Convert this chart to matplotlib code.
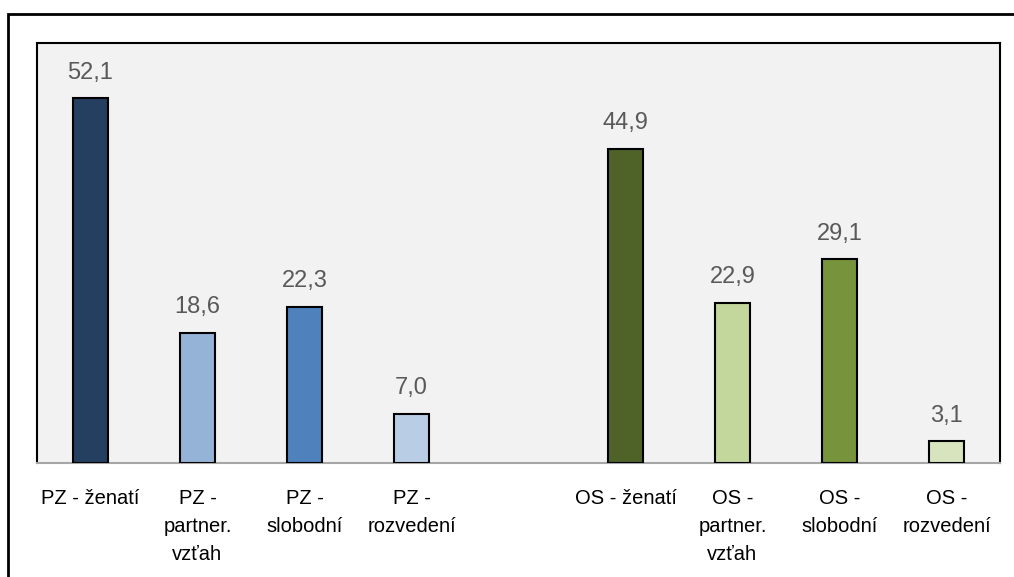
import matplotlib
matplotlib.use("Agg")
import matplotlib.pyplot as plt
from matplotlib.patches import Rectangle

plt.rcParams["font.family"] = ["Liberation Sans", "DejaVu Sans"]

# kategórie a hodnoty (%), medzi skupinami PZ a OS je prázdny slot
labels_pz = ["PZ - ženatí", "PZ -\npartner.\nvzťah", "PZ -\nslobodní", "PZ -\nrozvedení"]
labels_os = ["OS - ženatí", "OS -\npartner.\nvzťah", "OS -\nslobodní", "OS -\nrozvedení"]
values_pz = [52.1, 18.6, 22.3, 7.0]
values_os = [44.9, 22.9, 29.1, 3.1]
colors_pz = ["#243f60", "#95b3d7", "#4f81bd", "#b9cde5"]
colors_os = ["#4f6228", "#c3d69b", "#77933c", "#d7e4bd"]

labels = labels_pz + labels_os
values = values_pz + values_os
colors = colors_pz + colors_os
x = list(range(4)) + list(range(5, 9))

fig = plt.figure(figsize=(10.14, 5.77), dpi=100)
fig.patches.append(Rectangle((8 / 1014, -0.1), 1.2, (577 - 14) / 577 + 0.1,
                             transform=fig.transFigure, fill=False,
                             edgecolor="black", lw=2))
ax = fig.add_axes([37 / 1014, 114 / 577, 963 / 1014, 420 / 577])
ax.set_facecolor("#f2f2f2")

bars = ax.bar(x, values, width=0.32, color=colors, edgecolor="black", lw=1.5, zorder=3)
for xi, v in zip(x, values):
    ax.text(xi, v + 2.1, f"{v:.1f}".replace(".", ","), ha="center", va="bottom",
            fontsize=17, color="#595959")

ax.set_xlim(-0.5, 8.5)
ax.set_ylim(0, 60)
ax.set_yticks([])
ax.set_xticks(x)
ax.set_xticklabels(labels, fontsize=14.5, linespacing=1.6, color="black")
ax.tick_params(axis="x", length=0, pad=19)
for s in ["top", "left", "right"]:
    ax.spines[s].set_color("black")
    ax.spines[s].set_linewidth(1.5)
ax.spines["bottom"].set_color("#a6a6a6")
ax.spines["bottom"].set_linewidth(1.5)

fig.savefig("out.png", dpi=100, facecolor="white")
